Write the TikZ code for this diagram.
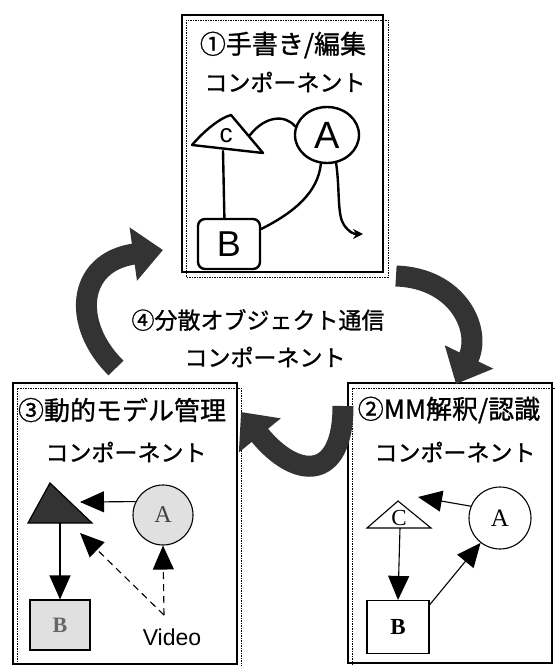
\documentclass[tikz,border=0pt]{standalone}
\usepackage{fontspec}
\newfontfamily\jp[FakeBold=1.0]{Noto Sans CJK JP}
\newfontfamily\lsans{Liberation Sans}
\newfontfamily\lserif{Liberation Serif}
\usetikzlibrary{arrows.meta,shapes.geometric}
\begin{document}
\begin{tikzpicture}[x=1pt,y=-1pt,
  frame/.style={draw, line width=1.4pt},
  dframe/.style={draw, line width=0.6pt, dash pattern=on 1.5pt off 1pt},
  jtext/.style={font=\jp\fontsize{23}{23}\selectfont, inner sep=0pt},
  jtitle/.style={font=\jp\fontsize{26}{26}\selectfont, inner sep=0pt},
  bigarrow/.style={line width=21pt, draw=black!80, -{Triangle[length=30pt,width=52pt]}},
  arr/.style={line width=1.1pt, -{Triangle[length=24pt,width=21pt]}},
  darr/.style={arr, dash pattern=on 7pt off 5pt},
  hand/.style={line width=2.4pt, line cap=round, line join=round}]
\useasboundingbox (0,0) rectangle (556,666);

% frames
\draw[frame] (182,15) rectangle (383,272);
\draw[dframe] (186,20) rectangle (388,277);
\draw[frame] (13,383) rectangle (237,664);
\draw[dframe] (17,388) rectangle (241,669);
\draw[frame] (348,383) rectangle (552,663);
\draw[dframe] (352,388) rectangle (557,668);

% titles
\node[jtitle] (t1) at (283,45) {①手書き/編集};
\node[jtext] (t1b) at (285,82) {コンポーネント};
\node[jtext] (t4) at (258,320) {④分散オブジェクト通信};
\node[jtext] (t4b) at (265,357) {コンポーネント};
\node[jtitle] (t3) at (122,410) {③動的モデル管理};
\node[jtext] (t3b) at (126,452) {コンポーネント};
\node[jtitle] (t2) at (449,410) {②MM解釈/認識};
\node[jtext] (t2b) at (455,452) {コンポーネント};

% big arrows
\coordinate (l0) at (116,368);
\coordinate (l1) at (163,250);
\draw[bigarrow] (l0) .. controls (72,325) and (76,262) .. (l1);
\coordinate (r0) at (396,276);
\coordinate (r1) at (456,384);
\draw[bigarrow] (r0) .. controls (458,278) and (482,330) .. (r1);
\coordinate (m0) at (343,406);
\coordinate (m1) at (241,412);
\draw[bigarrow] (m0) .. controls (343,482) and (296,480) .. (m1);

% top sketch
\coordinate (cL) at (192,145);
\coordinate (cT) at (231,115);
\coordinate (cR) at (263,153);
\draw[hand] (cL) .. controls (205,130) and (220,118) .. (cT) -- (cR) -- (cL);
\node[font=\lsans\fontsize{26}{26}\selectfont, inner sep=0pt] (cc) at (226,136) {c};
\node[hand, draw, ellipse, minimum width=64pt, minimum height=56pt, inner sep=0pt,
      font=\lsans\fontsize{38}{38}\selectfont] (a1) at (327,135) {A};
\node[hand, draw, rounded corners=7pt, minimum width=62pt, minimum height=50pt, inner sep=0pt,
      font=\lsans\fontsize{36}{36}\selectfont] (b1) at (229,244) {B};
\coordinate (cb) at (223,151);
\coordinate (cr) at (250,135);
\draw[hand] (cr) .. controls (265,116) and (285,114) .. (a1.165);
\draw[hand] (cb) -- (b1.100);
\draw[hand] (b1.25) .. controls (295,212) and (318,192) .. (a1.258);
\coordinate (e1) at (363,234);
\draw[hand, -{Stealth[length=10pt,width=10pt]}] (a1.288) .. controls (340,190) and (337,215) .. (344,225)
   .. controls (349,232) and (353,234) .. (e1);

% bottom-left diagram
\coordinate (p3L) at (28,523);
\coordinate (p3T) at (50,483);
\coordinate (p3R) at (92,523);
\draw[line width=1.2pt, fill=black!80] (p3L) -- (p3T) -- (p3R) -- cycle;
\node[draw, circle, line width=1.1pt, fill=black!12, minimum size=60pt, inner sep=0pt,
      font=\lserif\fontsize{24}{24}\selectfont, text=black!75] (a3) at (163,515) {A};
\node[draw, line width=1.1pt, fill=black!12, minimum width=60pt, minimum height=50pt, inner sep=0pt,
      font=\lserif\bfseries\fontsize{22}{22}\selectfont, text=black!60] (b3) at (60,625) {B};
\node[font=\lsans\fontsize{23}{23}\selectfont, inner sep=1pt] (v) at (172,637) {Video};
\coordinate (t3r) at (80,502);
\coordinate (t3b) at (60,523);
\coordinate (t3d) at (80,533);
\coordinate (vs) at (164,615);
\draw[arr] (a3.154) -- (t3r);
\draw[arr] (t3b) -- (b3.north);
\draw[darr] (vs) -- (t3d);
\draw[darr] (vs) -- (a3.south);

% bottom-right diagram
\coordinate (p2L) at (367,528);
\coordinate (p2T) at (398,501);
\coordinate (p2R) at (431,528);
\draw[line width=1.1pt, fill=white] (p2L) -- (p2T) -- (p2R) -- cycle;
\node[font=\lserif\fontsize{23}{23}\selectfont, inner sep=0pt] (c2) at (399,518) {C};
\node[draw, circle, line width=1.1pt, minimum size=62pt, inner sep=0pt,
      font=\lserif\fontsize{25}{25}\selectfont] (a2) at (500,518) {A};
\node[draw, line width=1.1pt, minimum width=62pt, minimum height=53pt, inner sep=0pt,
      font=\lserif\bfseries\fontsize{23}{23}\selectfont] (b2) at (398,627) {B};
\coordinate (t2r) at (418,497);
\coordinate (t2b) at (400,528);
\draw[arr] (a2.158) -- (t2r);
\draw[arr] (t2b) -- (b2.north);
\draw[arr] (b2.35) -- (a2.232);
\end{tikzpicture}
\end{document}
